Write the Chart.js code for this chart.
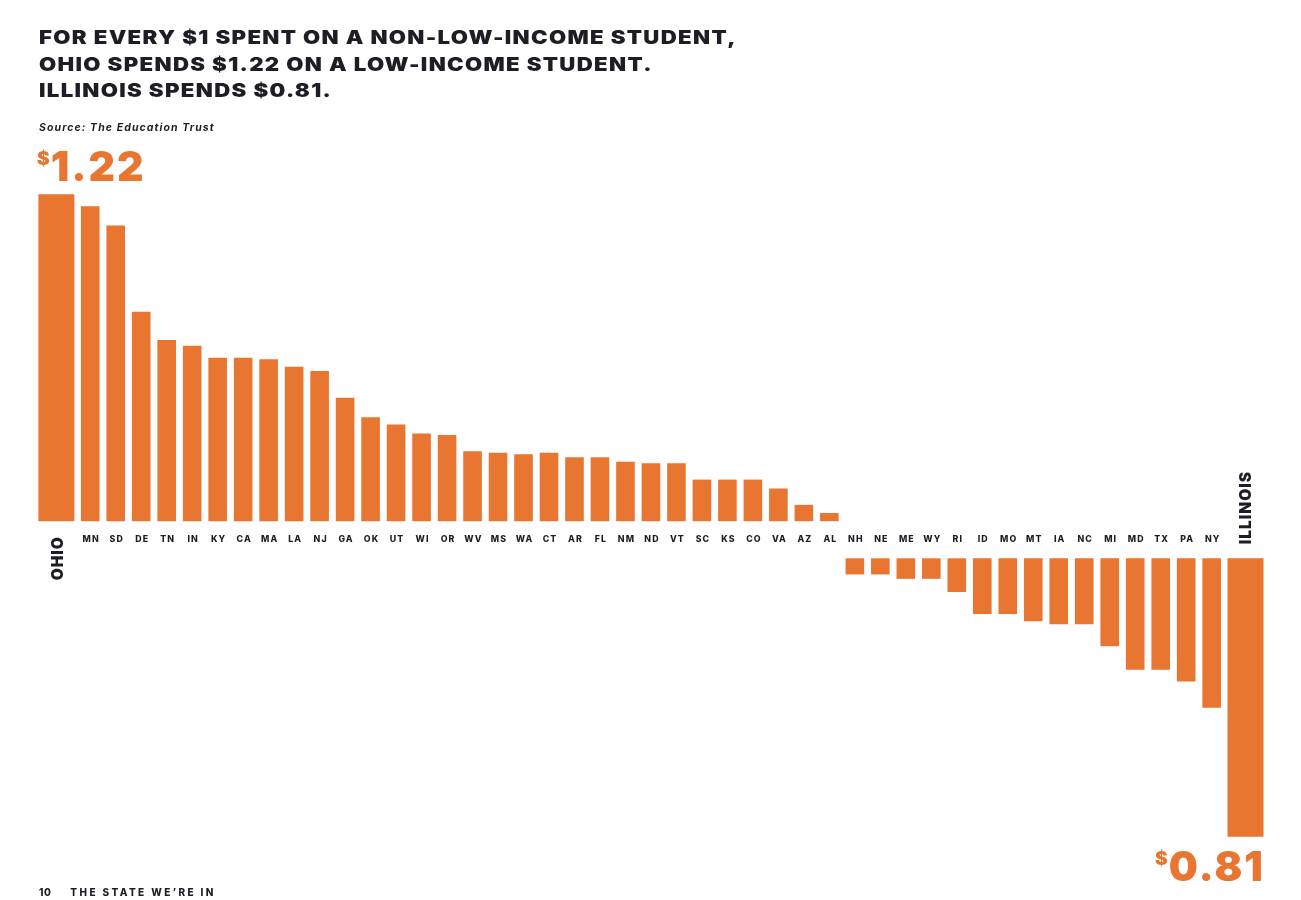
<!DOCTYPE html>
<html>
<head>
<meta charset="utf-8">
<script src="https://cdn.jsdelivr.net/npm/chart.js@4.4.1/dist/chart.umd.min.js"></script>
<style>
  body { margin: 0; background: #fff; }
  #page { position: relative; width: 1301px; height: 900px; overflow: hidden; font-family: Inter, "DejaVu Sans", sans-serif; color: #1e1c24; }
  #chart { position: absolute; left: 0; top: 0; }
  .title { position: absolute; left: 39px; top: 24px; font-weight: 900; font-size: 18.5px; line-height: 26.7px; letter-spacing: 1.1px; transform: scaleX(1.2); transform-origin: left top; white-space: nowrap; }
  .source { position: absolute; left: 39px; top: 121px; font-weight: 700; font-style: italic; font-size: 10.5px; letter-spacing: 1.1px; white-space: nowrap; }
  .big { position: absolute; display: flex; align-items: flex-start; color: #e87530; font-weight: 900; line-height: 1; }
  .big .d { font-size: 19px; margin-top: 3px; margin-right: 1px; }
  .big .n { font-size: 41px; letter-spacing: 2px; }
  .footer { position: absolute; left: 39px; top: 886px; font-weight: 800; font-size: 10px; letter-spacing: 2.4px; white-space: nowrap; }
  .footer span { margin-right: 19px; letter-spacing: 0.5px; }
</style>
</head>
<body>
<div id="page">
  <canvas id="chart" width="1301" height="900"></canvas>
  <div class="title">FOR EVERY $1 SPENT ON A NON-LOW-INCOME STUDENT,<br>OHIO SPENDS $1.22 ON A LOW-INCOME STUDENT.<br>ILLINOIS SPENDS $0.81.</div>
  <div class="source">Source: The Education Trust</div>
  <div class="big" style="left:37px; top:146px;"><span class="d">$</span><span class="n">1.22</span></div>
  <div class="big" style="left:1155px; top:846px;"><span class="d">$</span><span class="n">0.81</span></div>
  <div class="footer"><span>10</span>THE STATE WE’RE IN</div>
</div>
<script>
// dollars spent on a low-income student for every $1 on a non-low-income one
const states = ["OHIO", "MN", "SD", "DE", "TN", "IN", "KY", "CA", "MA", "LA", "NJ", "GA",
  "OK", "UT", "WI", "OR", "WV", "MS", "WA", "CT", "AR", "FL", "NM", "ND", "VT", "SC",
  "KS", "CO", "VA", "AZ", "AL", "NH", "NE", "ME", "WY", "RI", "ID", "MO", "MT", "IA",
  "NC", "MI", "MD", "TX", "PA", "NY", "ILLINOIS"];
const spending = [1.22, 1.212, 1.199, 1.141, 1.122, 1.118, 1.110, 1.110, 1.109, 1.104, 1.101, 1.083,
  1.070, 1.065, 1.059, 1.058, 1.047, 1.046, 1.045, 1.046, 1.043, 1.043, 1.040, 1.039, 1.039, 1.028,
  1.028, 1.028, 1.022, 1.011, 1.0055, 0.989, 0.989, 0.986, 0.986, 0.977, 0.962, 0.962, 0.957, 0.955,
  0.955, 0.940, 0.924, 0.924, 0.916, 0.898, 0.81];
const highlighted = ["OHIO", "ILLINOIS"];

const orange = "#e87530";
const ink = "#1e1c24";

const isEnd = (i) => highlighted.includes(states[i]);
const ohioData = spending.map((v, i) => (i === 0 ? v : null));
const illinoisData = spending.map((v, i) => (i === states.length - 1 ? v : null));
const aboveData = spending.map((v, i) => (!isEnd(i) && v >= 1 ? v : null));
const belowData = spending.map((v, i) => (!isEnd(i) && v < 1 ? v : null));

// state names sit in the gap between the two halves
const stateLabels = {
  id: "stateLabels",
  afterDatasetsDraw(chart) {
    const ctx = chart.ctx;
    const x = chart.scales.x;
    const gapTop = chart.scales.yGap.top;
    const gapBottom = chart.scales.yGap.bottom;
    const mid = (gapTop + gapBottom) / 2;
    ctx.save();
    ctx.fillStyle = ink;
    ctx.font = "800 8.8px Inter, 'DejaVu Sans', sans-serif";
    ctx.letterSpacing = "1.1px";
    ctx.textAlign = "center";
    ctx.textBaseline = "middle";
    states.forEach((s, i) => {
      if (isEnd(i)) return;
      ctx.fillText(s, x.getPixelForValue(i) + 1, mid);
    });
    // rotated names for the two highlighted states
    const ohioBar = chart.getDatasetMeta(0).data[0];
    const illBar = chart.getDatasetMeta(3).data[states.length - 1];
    ctx.font = "900 15.5px Inter, 'DejaVu Sans', sans-serif";
    ctx.letterSpacing = "1px";
    ctx.save();
    ctx.translate(ohioBar.x + 2, gapTop + 15);
    ctx.rotate(-Math.PI / 2);
    ctx.textAlign = "right";
    ctx.fillText("OHIO", 0, 0);
    ctx.restore();
    ctx.save();
    ctx.translate(illBar.x + 1, gapBottom - 14);
    ctx.rotate(-Math.PI / 2);
    ctx.textAlign = "left";
    ctx.fillText("ILLINOIS", 0, 0);
    ctx.restore();
    ctx.restore();
  }
};

// three stacks per category: the wide end bars sit off-centre, the rest stay centred
const endBar = { categoryPercentage: 0.983, barPercentage: 4.31, backgroundColor: orange, base: 1, clip: false };
const midBar = { categoryPercentage: 1, barPercentage: 2.19, backgroundColor: orange, base: 1, clip: false };

new Chart(document.getElementById("chart"), {
  type: "bar",
  data: {
    labels: states,
    datasets: [
      { label: "Ohio", data: ohioData, yAxisID: "yTop", stack: "a", ...endBar },
      { label: "Above", data: aboveData, yAxisID: "yTop", stack: "b", ...midBar },
      { label: "Below", data: belowData, yAxisID: "yBot", stack: "b", ...midBar },
      { label: "Illinois", data: illinoisData, yAxisID: "yBot", stack: "c", ...endBar }
    ]
  },
  options: {
    responsive: false,
    animation: false,
    layout: { padding: { top: 194.3, bottom: 63.3, left: 52, right: 51.1 } },
    plugins: { legend: { display: false }, tooltip: { enabled: false } },
    scales: {
      x: { display: false, grid: { display: false } },
      // left-stacked axes are laid out last-first, so the bottom half comes first here
      yBot: { display: false, min: 0.81, max: 1, stacked: false, stack: "v", stackWeight: 278.4, position: "left" },
      yGap: { display: false, min: 0, max: 1, stack: "v", stackWeight: 37.1, position: "left" },
      yTop: { display: false, min: 1, max: 1.22, stacked: false, stack: "v", stackWeight: 326.9, position: "left" }
    }
  },
  plugins: [stateLabels]
});
</script>
</body>
</html>
